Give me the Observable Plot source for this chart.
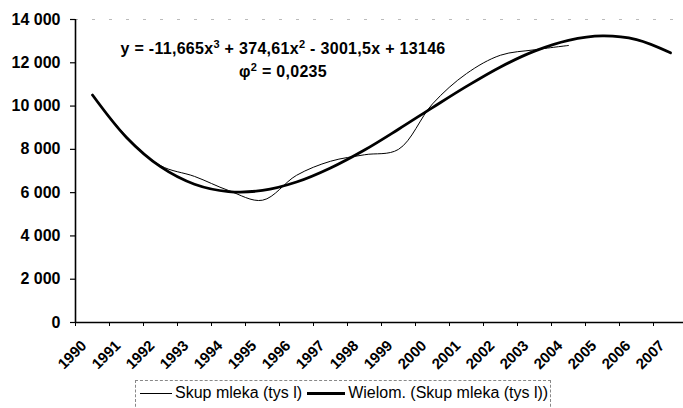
<!DOCTYPE html>
<html>
<head>
<meta charset="utf-8">
<script src="https://cdn.jsdelivr.net/npm/d3@7"></script>
<script src="https://cdn.jsdelivr.net/npm/@observablehq/plot@0.6"></script>
<style>
  html, body { margin: 0; padding: 0; background: #fff; }
  #wrap { position: relative; width: 683px; height: 408px; overflow: hidden; background: #fff;
          font-family: "Liberation Sans", Arial, sans-serif; color: #000; }
  #eq { position: absolute; left: 0; width: 566px; top: 38px; text-align: center;
        font-size: 16px; font-weight: bold; line-height: 22px; letter-spacing: 0.3px; }
  #eq .sup { position: relative; top: -6px; font-size: 11px; }
  #legend { position: absolute; left: 135px; top: 380px; width: 414px; height: 40px;
            border: 1px dashed #888; border-bottom: none; font-size: 16px; }
  #legend .row { display: flex; align-items: center; height: 24px; padding-left: 4px; white-space: nowrap; }
  #legend .sw { display: inline-block; height: 0; border-top-style: solid; border-top-color: #000; margin-right: 3px; }
</style>
</head>
<body>
<div id="wrap">
  <div id="chart"></div>
  <div id="eq">y = -11,665x<span class="sup">3</span> + 374,61x<span class="sup">2</span> - 3001,5x + 13146<br>φ<span class="sup">2</span> = 0,0235</div>
  <div id="legend"><div class="row">
    <span class="sw" style="width:32px;border-top-width:1px"></span><span id="l1"></span>
    <span class="sw" style="width:38px;border-top-width:3px;margin-left:5px"></span><span id="l2"></span>
  </div></div>
</div>
<script>
const years = [1990, 1991, 1992, 1993, 1994, 1995, 1996, 1997, 1998, 1999, 2000, 2001, 2002, 2003, 2004, 2005, 2006, 2007];
const skupYears = [1990, 1991, 1992, 1993, 1994, 1995, 1996, 1997, 1998, 1999, 2000, 2001, 2002, 2003, 2004];
const skupValues = [10500, 8600, 7250, 6750, 6100, 5650, 6800, 7450, 7750, 8000, 10100, 11500, 12350, 12600, 12800];
const trendValues = [10510, 8550, 7200, 6390, 6050, 6100, 6490, 7140, 7970, 8930, 9930, 10910, 11810, 12540, 13040, 13240, 13070, 12460];
const yTicks = [0, 2000, 4000, 6000, 8000, 10000, 12000, 14000];
const seriesNames = ["Skup mleka (tys l)", "Wielom. (Skup mleka (tys l))"];

document.getElementById("l1").textContent = seriesNames[0];
document.getElementById("l2").textContent = seriesNames[1];

const skup = skupYears.map((y, i) => ({year: y, value: skupValues[i]}));
const trend = years.map((y, i) => ({year: y, value: trendValues[i]}));
const bounds = years.map(y => y - 0.5).concat([years[years.length - 1] + 0.5]);
const fmt = v => d3.format(",")(v).replace(/,/g, " ");

const chart = Plot.plot({
  width: 683,
  height: 375,
  marginLeft: 75,
  marginTop: 19,
  marginBottom: 53,
  marginRight: 0,
  style: {fontFamily: "'Liberation Sans', Arial, sans-serif", color: "#000", background: "transparent", overflow: "hidden"},
  x: {type: "linear", domain: [bounds[0], bounds[bounds.length - 1]], range: [75, 687]},
  y: {domain: [0, 14000], range: [322, 19]},
  marks: [
    Plot.ruleY([14000], {stroke: "#bbb", strokeDasharray: "3,14"}),
    Plot.axisY({ticks: yTicks, tickSize: 5, tickPadding: 10, tickFormat: fmt, fontSize: 16, fontWeight: "bold", label: null, strokeWidth: 1.2}),
    Plot.axisX({ticks: bounds, tickSize: 4, tickFormat: () => "", label: null}),
    Plot.ruleX([bounds[0]], {stroke: "#000", strokeWidth: 1.6}),
    Plot.ruleY([0], {stroke: "#000", strokeWidth: 1.6}),
    Plot.text(years, {x: d => d, frameAnchor: "bottom", text: d => String(d), rotate: -45, textAnchor: "end",
                      dx: -5, dy: 24, fontSize: 15, fontWeight: "bold"}),
    Plot.line(skup, {x: "year", y: "value", curve: "catmull-rom", stroke: "#000", strokeWidth: 1}),
    Plot.line(trend, {x: "year", y: "value", curve: "catmull-rom", stroke: "#000", strokeWidth: 2.8})
  ]
});
document.getElementById("chart").appendChild(chart);
</script>
</body>
</html>
